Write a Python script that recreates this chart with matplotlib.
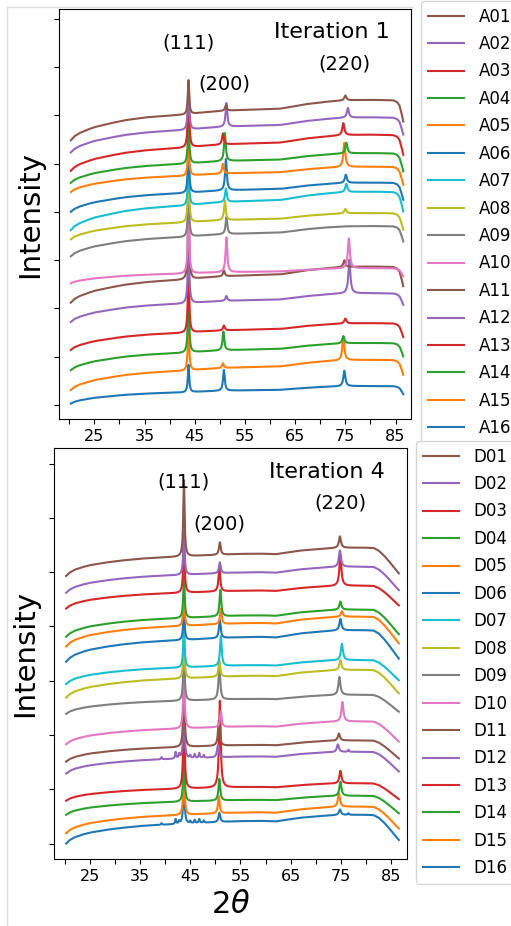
import numpy as np
import matplotlib
matplotlib.use("Agg")
import matplotlib.pyplot as plt
from matplotlib.lines import Line2D

# scan grid (2 theta, degrees)
two_theta = np.arange(20.3, 86.56, 0.02)

# ---- iteration 1, samples listed top to bottom ----
a_names = ["A%02d" % i for i in range(1, 17)]
a_start = [5.48, 5.23, 4.85, 4.60, 4.41, 4.00, 3.62, 3.43, 3.08, 2.52, 2.12, 1.72, 1.14, 0.72, 0.31, 0.03]
a_plateau = [6.31, 5.95, 5.59, 5.21, 4.93, 4.60, 4.41, 3.97, 3.70, 2.83, 2.86, 2.31, 1.69, 1.28, 0.93, 0.39]
a_end = [5.86, 5.59, 5.17, 4.83, 4.55, 4.24, 4.00, 3.62, 3.38, 2.66, 2.45, 2.07, 1.40, 1.00, 0.62, 0.22]
a_h111 = [0.71, 1.00, 1.35, 1.00, 0.80, 1.00, 0.90, 1.20, 1.00, 1.50, 1.60, 1.50, 1.40, 1.30, 1.00, 0.57]
a_pos200 = [51.2, 51.3, 50.6, 51.0, 50.6, 51.2, 51.2, 51.0, 51.3, 51.3, 50.8, 51.3, 50.8, 50.7, 50.6, 50.8]
a_h200 = [0.11, 0.49, 0.23, 0.58, 0.20, 0.65, 0.28, 0.40, 0.35, 0.72, 0.12, 0.10, 0.10, 0.39, 0.10, 0.43]
a_pos220 = [75.0, 75.5, 74.6, 75.2, 74.8, 75.1, 75.2, 75.0, 75.0, 75.7, 74.8, 75.8, 75.0, 74.6, 74.6, 74.8]
a_h220 = [0.10, 0.20, 0.25, 0.22, 0.50, 0.17, 0.17, 0.09, 0.00, 0.62, 0.14, 0.70, 0.10, 0.15, 0.48, 0.32]

# background shape of iteration 1 scans (0 at start, 1 at plateau)
a_shape_x = [20.3, 21, 22, 23.5, 25, 28, 31, 35, 39, 43, 47, 51, 55, 59, 62, 64, 67, 71, 75, 80, 84.5]
a_shape_f = [0, 0.10, 0.18, 0.26, 0.33, 0.42, 0.50, 0.57, 0.61, 0.64, 0.70, 0.74, 0.76, 0.78, 0.79, 0.83, 0.90, 0.96, 1.0, 1.01, 1.0]
a_drop_x = [84.5, 85.3, 85.8, 86.2, 86.56]
a_drop_g = [0, 0.08, 0.25, 0.60, 1.0]

# ---- iteration 4 ----
d_names = ["D%02d" % i for i in range(1, 17)]
d_start = [4.93, 4.62, 4.33, 3.81, 3.63, 3.35, 2.94, 2.69, 2.39, 1.83, 1.51, 1.29, 0.79, 0.53, 0.19, 0.00]
d_plateau = [5.45, 5.10, 4.75, 4.31, 4.18, 3.93, 3.38, 3.20, 2.74, 2.25, 1.90, 1.69, 1.11, 0.88, 0.68, 0.53]
d_end = [4.98, 4.67, 4.39, 3.86, 3.69, 3.41, 3.01, 2.77, 2.43, 1.88, 1.57, 1.33, 0.82, 0.56, 0.28, 0.07]
d_h111 = [1.41, 0.80, 1.00, 0.80, 0.60, 0.60, 0.80, 0.80, 1.00, 1.20, 1.30, 1.00, 1.60, 1.00, 0.90, 0.80]
d_pos200 = [50.9, 50.9, 50.8, 51.0, 51.1, 50.9, 51.1, 50.8, 50.8, 51.1, 50.7, 50.5, 50.9, 50.8, 50.7, 50.8]
d_h200 = [0.23, 0.20, 0.44, 0.49, 0.28, 0.34, 0.55, 0.30, 0.64, 0.29, 0.47, 0.22, 1.60, 0.40, 0.31, 0.17]
d_pos220 = [74.8, 74.8, 74.9, 74.9, 75.2, 74.9, 75.2, 74.9, 74.7, 75.3, 74.6, 74.4, 74.9, 74.9, 74.6, 74.8]
d_h220 = [0.21, 0.30, 0.56, 0.15, 0.10, 0.21, 0.30, 0.18, 0.33, 0.36, 0.13, 0.14, 0.23, 0.26, 0.25, 0.10]

# small secondary reflections seen in D12 and D16
minor_x = [39.3, 42.1, 42.8, 45.0, 45.9, 46.8, 47.7, 76.5]
d12_minor = [0.04, 0.12, 0.08, 0.05, 0.07, 0.09, 0.05, 0.04]
d16_minor = [0.03, 0.09, 0.05, 0.04, 0.06, 0.07, 0.04, 0.03]
minor = {"D12": d12_minor, "D16": d16_minor}

d_shape_x = [20.3, 21, 22, 23.5, 25, 28, 31, 35, 39, 43, 47, 51, 55, 59, 62, 64, 67, 71, 75, 80, 81.5]
d_shape_f = [0, 0.12, 0.22, 0.31, 0.38, 0.47, 0.54, 0.61, 0.65, 0.68, 0.72, 0.75, 0.78, 0.79, 0.77, 0.82, 0.90, 0.96, 1.0, 1.0, 0.99]
d_drop_x = [81.5, 82.5, 83.5, 84.5, 85.5, 86.56]
d_drop_g = [0, 0.10, 0.28, 0.50, 0.75, 1.0]

POS111 = 43.75


def peak(x0, h, w):
    return h / (1 + ((two_theta - x0) / w) ** 2)


def pattern(i, start, plateau, end, h111, p200, h200, p220, h220, sx, sf, dx, dg):
    base = start[i] + (plateau[i] - start[i]) * np.interp(two_theta, sx, sf)
    base -= (plateau[i] - end[i]) * np.interp(two_theta, dx, dg)
    y = base + peak(POS111, h111[i], 0.16) + peak(p200[i], h200[i], 0.2) + peak(p220[i], h220[i], 0.24)
    return y


def draw(ax, names, curves, legend_xy):
    lines = []
    n = len(names)
    # bottom trace first so the tab10 cycle starts from the bottom
    for k, i in enumerate(range(n - 1, -1, -1)):
        ln, = ax.plot(two_theta, curves[i], color="C%d" % (k % 10), lw=1.5, label=names[i])
        lines.append(ln)
    lines = lines[::-1]
    ax.legend(handles=lines, loc="upper left", bbox_to_anchor=legend_xy,
              bbox_transform=ax.figure.transFigure, borderaxespad=0,
              fontsize=12, labelspacing=0.566, handlelength=2.16, handletextpad=0.9)
    ax.set_xlim(17.95, 88.1)
    ax.set_xticks(np.arange(20, 90, 5))
    ax.set_xticklabels(["" if t % 10 == 0 else str(t) for t in range(20, 90, 5)])
    ax.tick_params(axis="x", labelsize=11.5)
    ax.set_yticklabels([])
    ax.set_ylabel("Intensity", fontsize=21)


a_curves = [pattern(i, a_start, a_plateau, a_end, a_h111, a_pos200, a_h200, a_pos220, a_h220,
                    a_shape_x, a_shape_f, a_drop_x, a_drop_g) for i in range(16)]
d_curves = []
for i in range(16):
    y = pattern(i, d_start, d_plateau, d_end, d_h111, d_pos200, d_h200, d_pos220, d_h220,
                d_shape_x, d_shape_f, d_drop_x, d_drop_g)
    for px, ph in zip(minor_x, minor.get(d_names[i], [0] * len(minor_x))):
        y = y + peak(px, ph, 0.12)
    d_curves.append(y)

fig = plt.figure(figsize=(5.11, 9.26), dpi=100)
ax1 = fig.add_axes([0.1155, 0.5475, 0.689, 0.4428])
ax2 = fig.add_axes([0.1063, 0.072, 0.6896, 0.4438])

draw(ax1, a_names, a_curves, (0.824, 0.999))
ax1.set_ylim(-0.29, 8.2)
ax1.set_yticks(np.arange(0, 9))
ax1.set_yticklabels([])
ax1.text(0.94, 0.944, "Iteration 1", transform=ax1.transAxes, ha="right", va="center", fontsize=16)
ax1.text(43.8, 7.49, "(111)", ha="center", va="center", fontsize=14)
ax1.text(50.9, 6.65, "(200)", ha="center", va="center", fontsize=14)
ax1.text(74.9, 7.06, "(220)", ha="center", va="center", fontsize=14)

draw(ax2, d_names, d_curves, (0.814, 0.5238))
ax2.set_ylim(-0.29, 7.28)
ax2.set_yticks(np.arange(0, 8))
ax2.set_yticklabels([])
ax2.set_xlabel(r"$2\theta$", fontsize=22)
ax2.text(0.938, 0.942, "Iteration 4", transform=ax2.transAxes, ha="right", va="center", fontsize=16)
ax2.text(43.7, 6.66, "(111)", ha="center", va="center", fontsize=14)
ax2.text(50.8, 5.89, "(200)", ha="center", va="center", fontsize=14)
ax2.text(74.9, 6.27, "(220)", ha="center", va="center", fontsize=14)

# thin page border on the left and top
fig.add_artist(Line2D([7 / 511, 7 / 511], [0, 1 - 7 / 926], color="#dddddd", lw=1))
fig.add_artist(Line2D([7 / 511, 413 / 511], [1 - 7 / 926, 1 - 7 / 926], color="#dddddd", lw=1))

fig.savefig("out.png", dpi=100)
